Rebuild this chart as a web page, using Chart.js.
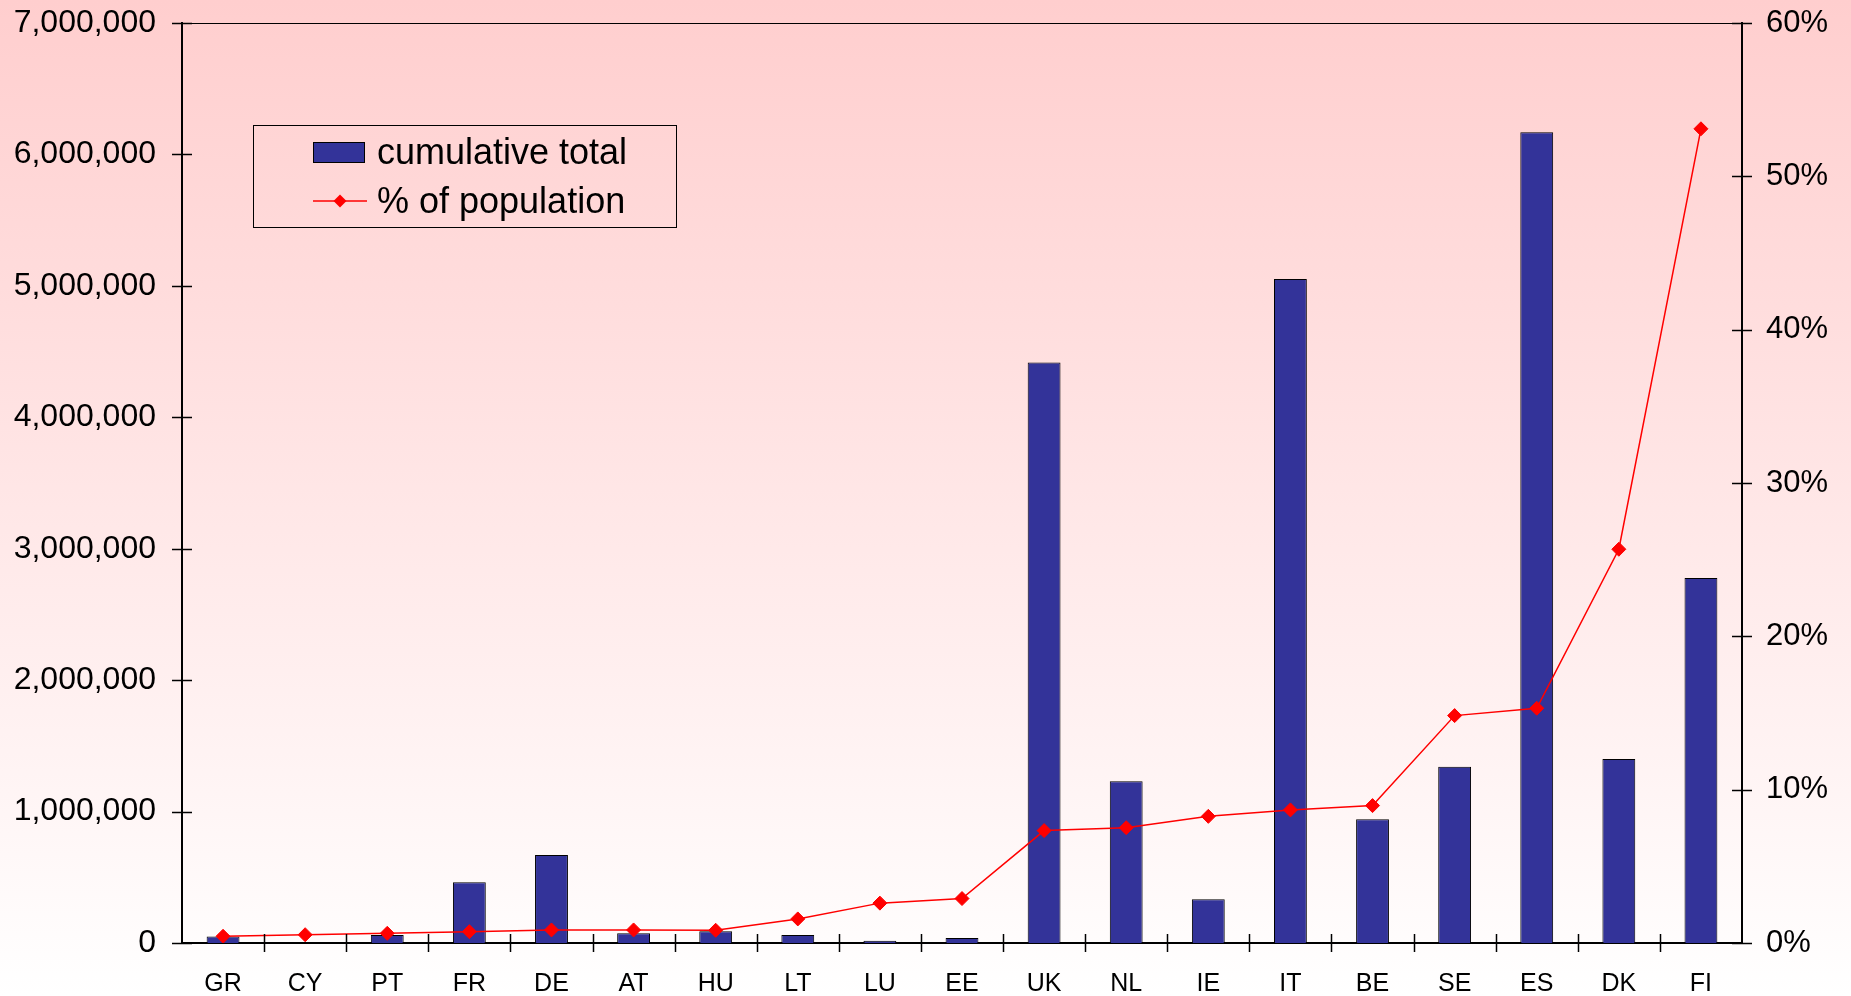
<!DOCTYPE html>
<html>
<head>
<meta charset="utf-8">
<script src="https://cdn.jsdelivr.net/npm/chart.js@4/dist/chart.umd.min.js"></script>
<style>
  html, body { margin: 0; padding: 0; background: #fff; }
  #wrap { width: 1851px; height: 996px; position: relative; }
</style>
</head>
<body>
<div id="wrap"><canvas id="chart" width="1851" height="996"></canvas></div>
<script>
// Countries, ordered by share of population
const categories = ['GR', 'CY', 'PT', 'FR', 'DE', 'AT', 'HU', 'LT', 'LU', 'EE',
                    'UK', 'NL', 'IE', 'IT', 'BE', 'SE', 'ES', 'DK', 'FI'];

// Cumulative total (left axis)
const cumulativeTotal = [49000, 0, 61000, 462000, 670000, 74000, 89000, 61000, 18000, 38000,
                         4416000, 1231000, 333000, 5052000, 941000, 1341000, 6168000, 1400000, 2777000];

// Share of population, in percent (right axis)
const percentOfPopulation = [0.44, 0.54, 0.63, 0.74, 0.85, 0.85, 0.83, 1.57, 2.6, 2.9,
                             7.33, 7.52, 8.26, 8.68, 8.96, 14.83, 15.31, 25.68, 53.1];

// Axis tick labels
const leftTickLabels = ['0', '1,000,000', '2,000,000', '3,000,000', '4,000,000', '5,000,000', '6,000,000', '7,000,000'];
const rightTickLabels = ['0%', '10%', '20%', '30%', '40%', '50%', '60%'];

const seriesNames = ['cumulative total', '% of population'];

const FONT = "'Liberation Sans', Arial, Helvetica, sans-serif";
const BAR_COLOR = '#333399';
const LINE_COLOR = '#FF0000';

// Pink-to-white backdrop behind the whole chart
const backdrop = {
  id: 'backdrop',
  beforeDraw(chart) {
    const { ctx, width, height } = chart;
    const g = ctx.createLinearGradient(0, 0, 0, height);
    g.addColorStop(0, '#FFCECE');
    g.addColorStop(1, '#FFFFFF');
    ctx.save();
    ctx.fillStyle = g;
    ctx.fillRect(0, 0, width, height);
    ctx.restore();
  }
};

// Tick marks that cross the axis lines, plus the frame line along the top
const crossTicks = {
  id: 'crossTicks',
  afterDatasetsDraw(chart) {
    const { ctx, chartArea: a, scales } = chart;
    ctx.save();
    ctx.strokeStyle = '#000';
    ctx.lineWidth = 1.5;
    ctx.beginPath();
    const yl = scales.y;
    yl.ticks.forEach((t, i) => {
      const y = Math.round(yl.getPixelForTick(i)) + 0.5;
      ctx.moveTo(a.left - 10, y); ctx.lineTo(a.left + 10, y);
    });
    const yr = scales.y1;
    yr.ticks.forEach((t, i) => {
      const y = Math.round(yr.getPixelForTick(i)) + 0.5;
      ctx.moveTo(a.right - 10, y); ctx.lineTo(a.right + 10, y);
    });
    const n = categories.length;
    const step = (a.right - a.left) / n;
    for (let i = 1; i < n; i++) {
      const x = Math.round(a.left + i * step) + 0.5;
      ctx.moveTo(x, a.bottom - 9); ctx.lineTo(x, a.bottom + 9);
    }
    ctx.stroke();
    ctx.lineWidth = 1;
    ctx.beginPath();
    ctx.moveTo(a.left, Math.round(a.top) + 0.5);
    ctx.lineTo(a.right, Math.round(a.top) + 0.5);
    ctx.stroke();
    ctx.restore();
  }
};

// Boxed legend placed inside the plot area
const boxLegend = {
  id: 'boxLegend',
  afterDraw(chart) {
    const { ctx, chartArea: a } = chart;
    const ds = chart.data.datasets;
    const barSet = ds.find(d => d.type === 'bar');
    const lineSet = ds.find(d => d.type === 'line');
    const bx = a.left + 71, by = a.top + 102, bw = 423, bh = 102;
    ctx.save();
    ctx.strokeStyle = '#000';
    ctx.lineWidth = 1;
    ctx.strokeRect(Math.round(bx) + 0.5, Math.round(by) + 0.5, bw, bh);

    const sx = bx + 60, tx = bx + 124;
    const row1 = by + 27, row2 = by + 76;

    // bar swatch
    ctx.fillStyle = barSet.backgroundColor;
    ctx.fillRect(sx, row1 - 10, 52, 21);
    ctx.strokeStyle = '#000';
    ctx.strokeRect(sx + 0.5, row1 - 10 + 0.5, 51, 20);

    // line swatch with marker
    ctx.strokeStyle = lineSet.borderColor;
    ctx.lineWidth = 1.5;
    ctx.beginPath();
    ctx.moveTo(sx, row2); ctx.lineTo(sx + 54, row2);
    ctx.stroke();
    ctx.fillStyle = lineSet.borderColor;
    const cx = sx + 27, r = 6.5;
    ctx.beginPath();
    ctx.moveTo(cx, row2 - r); ctx.lineTo(cx + r, row2); ctx.lineTo(cx, row2 + r); ctx.lineTo(cx - r, row2);
    ctx.closePath();
    ctx.fill();

    ctx.fillStyle = '#000';
    ctx.font = '36px ' + FONT;
    ctx.textBaseline = 'middle';
    ctx.textAlign = 'left';
    ctx.fillText(barSet.label, tx, row1 + 2);
    ctx.fillText(lineSet.label, tx, row2 + 2);
    ctx.restore();
  }
};

new Chart(document.getElementById('chart'), {
  data: {
    labels: categories,
    datasets: [
      {
        type: 'line',
        label: seriesNames[1],
        data: percentOfPopulation,
        yAxisID: 'y1',
        borderColor: LINE_COLOR,
        borderWidth: 1.5,
        backgroundColor: LINE_COLOR,
        pointStyle: 'rectRot',
        pointRadius: 7,
        pointBorderWidth: 1,
        pointBackgroundColor: LINE_COLOR,
        pointBorderColor: LINE_COLOR,
        tension: 0,
        order: 0
      },
      {
        type: 'bar',
        label: seriesNames[0],
        data: cumulativeTotal,
        yAxisID: 'y',
        backgroundColor: BAR_COLOR,
        borderColor: '#000',
        borderWidth: 1,
        borderSkipped: 'start',
        categoryPercentage: 1,
        barPercentage: 0.4,
        order: 1
      }
    ]
  },
  options: {
    responsive: false,
    animation: false,
    layout: { padding: { top: 23, right: 0, bottom: 0, left: 0 } },
    plugins: {
      legend: { display: false },
      tooltip: { enabled: false },
      title: { display: false }
    },
    scales: {
      x: {
        type: 'category',
        offset: true,
        grid: { display: false, drawTicks: false },
        border: { display: true, color: '#000', width: 2 },
        ticks: { color: '#000', font: { family: FONT, size: 25 }, padding: 26, maxRotation: 0, autoSkip: false },
        afterFit(s) { s.height = 53; s.paddingLeft = 0; s.paddingRight = 0; }
      },
      y: {
        type: 'linear',
        position: 'left',
        min: 0,
        max: 7000000,
        grid: { display: false, drawTicks: false },
        border: { display: true, color: '#000', width: 2 },
        ticks: {
          stepSize: 1000000,
          color: '#000',
          font: { family: FONT, size: 32 },
          padding: 26,
          callback: (v, i) => leftTickLabels[i]
        },
        afterFit(s) { s.width = 182; s.paddingTop = 0; s.paddingBottom = 0; }
      },
      y1: {
        type: 'linear',
        position: 'right',
        min: 0,
        max: 60,
        grid: { display: false, drawTicks: false },
        border: { display: true, color: '#000', width: 2 },
        ticks: {
          stepSize: 10,
          color: '#000',
          font: { family: FONT, size: 31 },
          padding: 24,
          callback: (v, i) => rightTickLabels[i]
        },
        afterFit(s) { s.width = 109; s.paddingTop = 0; s.paddingBottom = 0; }
      }
    }
  },
  plugins: [backdrop, crossTicks, boxLegend]
});
</script>
</body>
</html>
